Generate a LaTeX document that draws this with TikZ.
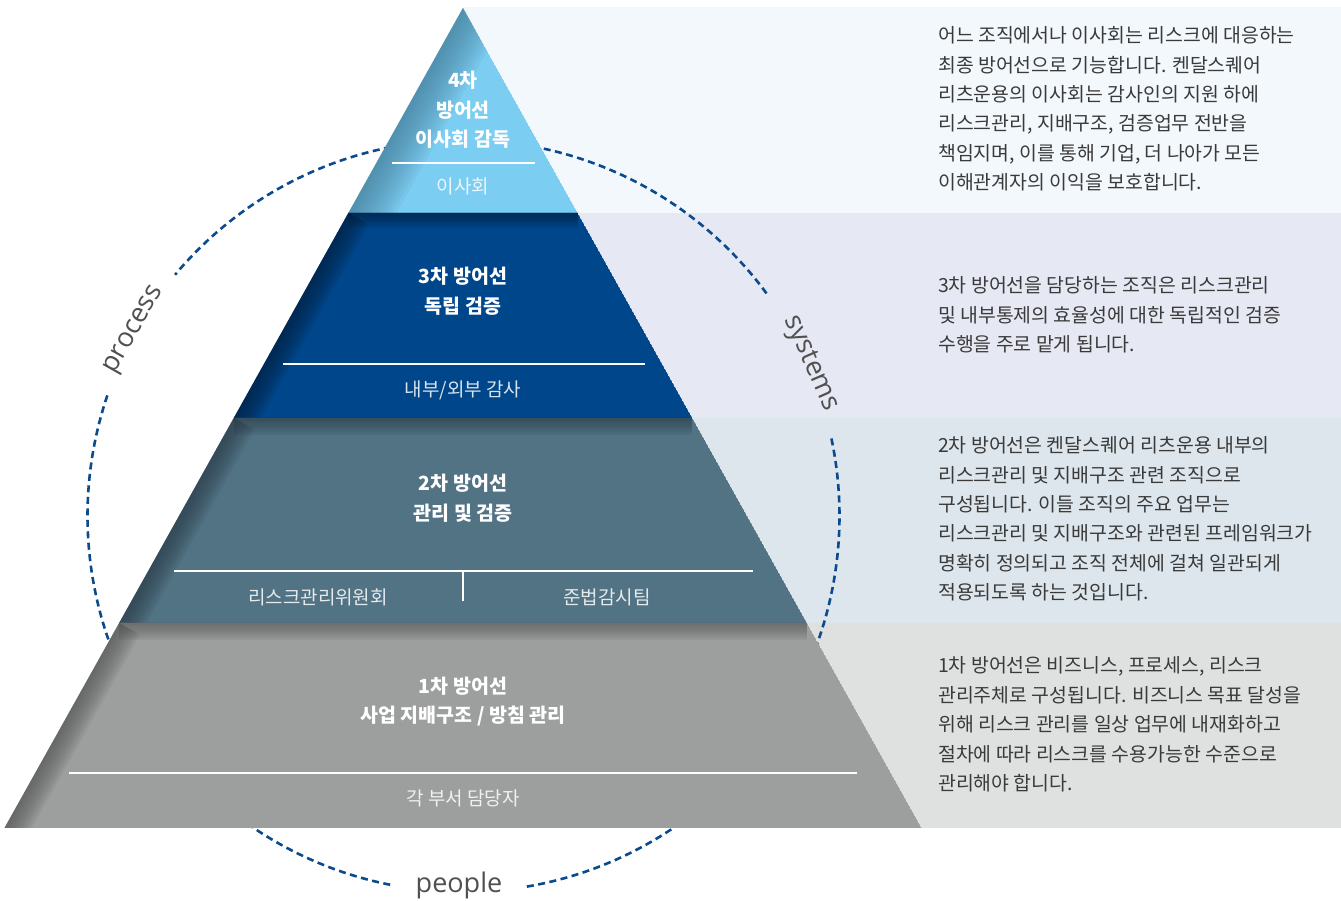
\documentclass[tikz,border=0pt]{standalone}
\usepackage{fontspec}
\setmainfont{Noto Sans CJK KR}
\newfontfamily\labelfont{Open Sans}
\usepackage{xcolor}
\usetikzlibrary{calc, positioning}

\definecolor{boardblue}{HTML}{7CCDF2}
\definecolor{boardshade}{HTML}{3F7590}
\definecolor{auditblue}{HTML}{00468A}
\definecolor{auditshade}{HTML}{00213F}
\definecolor{mgmtslate}{HTML}{517384}
\definecolor{mgmtshade}{HTML}{2C3D4A}
\definecolor{bizgrey}{HTML}{9D9E9E}
\definecolor{bizshade}{HTML}{545555}
\definecolor{panelA}{HTML}{F3F8FD}
\definecolor{panelB}{HTML}{E6E8F3}
\definecolor{panelC}{HTML}{DDE6EC}
\definecolor{panelD}{HTML}{DFE0E0}
\definecolor{ringblue}{HTML}{0B4A8C}
\definecolor{desctext}{HTML}{3A3A3A}
\definecolor{labelgrey}{HTML}{505050}

\begin{document}
\begin{tikzpicture}[x=1pt, y=1pt,
    title/.style={text=white, font=\fontsize{19.5}{29.5}\selectfont\bfseries, align=center, inner sep=0},
    sub/.style={text=white, text opacity=0.85, font=\fontsize{19}{22}\selectfont, inner sep=0},
    desc/.style={text=desctext, font=\fontsize{19.4}{29.4}\selectfont, align=left, anchor=west, inner sep=0},
    ring/.style={draw=ringblue, line width=2.6pt, dash pattern=on 7pt off 4.5pt},
    ringlabel/.style={text=labelgrey, font=\labelfont\fontsize{27}{30}\selectfont, inner sep=0, anchor=mid},
    divider/.style={draw=white, line width=1.4pt}]

    \useasboundingbox (0,0) rectangle (1341,901);
    \fill[white] (0,0) rectangle (1341,901);

    % Panels
    \fill[panelA] (463,688) rectangle (1341,894);
    \fill[panelB] (463,483) rectangle (1341,688);
    \fill[panelC] (463,278) rectangle (1341,483);
    \fill[panelD] (463,73) rectangle (1341,278);

    % Ring
    \coordinate (c) at (463.5,385);
    \draw[ring] ($(c)+(-80.3:376)$) arc[start angle=-80.3, end angle=11.9, radius=376pt];
    \draw[ring] ($(c)+(36.3:376)$) arc[start angle=36.3, end angle=140.1, radius=376pt];
    \draw[ring] ($(c)+(161.3:376)$) arc[start angle=161.3, end angle=259.3, radius=376pt];

    % Pyramid corners
    \coordinate (apex) at (463,893);
    \coordinate (l1) at (348.4,688);  \coordinate (r1) at (577.6,688);
    \coordinate (l2) at (233.8,483);  \coordinate (r2) at (692.2,483);
    \coordinate (l3) at (119.2,278);  \coordinate (r3) at (806.8,278);
    \coordinate (l4) at (4.5,73);     \coordinate (r4) at (921.5,73);

    % Bands
    \begin{scope}
      \clip (apex) -- (r1) -- (l1) -- cycle;
      \fill[boardblue] (apex) -- (r1) -- (l1) -- cycle;
      \foreach \i in {1,...,12}
        \draw[boardshade, line width=\i*7pt, opacity=0.08] (apex) -- (l1);
    \end{scope}
    \begin{scope}
      \clip (l1) -- (r1) -- (r2) -- (l2) -- cycle;
      \fill[auditblue] (l1) -- (r1) -- (r2) -- (l2) -- cycle;
      \foreach \i in {1,...,12}
        \draw[auditshade, line width=\i*4pt, opacity=0.09] (l1) -- (l2);
      \foreach \i in {1,...,10}
        \draw[auditshade, line width=\i*3pt, opacity=0.09] (l1) -- (r1);
    \end{scope}
    \begin{scope}
      \clip (l2) -- (r2) -- (r3) -- (l3) -- cycle;
      \fill[mgmtslate] (l2) -- (r2) -- (r3) -- (l3) -- cycle;
      \foreach \i in {1,...,12}
        \draw[mgmtshade, line width=\i*4pt, opacity=0.09] (l2) -- (l3);
      \foreach \i in {1,...,10}
        \draw[mgmtshade, line width=\i*3.5pt, opacity=0.09] (l2) -- (r2);
    \end{scope}
    \begin{scope}
      \clip (l3) -- (r3) -- (r4) -- (l4) -- cycle;
      \fill[bizgrey] (l3) -- (r3) -- (r4) -- (l4) -- cycle;
      \foreach \i in {1,...,12}
        \draw[bizshade, line width=\i*4pt, opacity=0.09] (l3) -- (l4);
      \foreach \i in {1,...,10}
        \draw[bizshade, line width=\i*3.5pt, opacity=0.09] (l3) -- (r3);
    \end{scope}

    % Nodes
    \node[title] (t4) at (463,791) {4차\\방어선\\이사회 감독};
    \node[sub] (s4) at (463,715) {이사회};
    \node[title] (t3) at (463,610) {3차 방어선\\독립 검증};
    \node[sub] (s3) at (463,511) {내부/외부 감사};
    \node[title] (t2) at (463,403) {2차 방어선\\관리 및 검증};
    \node[sub] (s2a) at (318,304) {리스크관리위원회};
    \node[sub] (s2b) at (607,304) {준법감시팀};
    \node[title] (t1) at (463,199.5) {1차 방어선\\사업 지배구조 / 방침 관리};
    \node[sub] (s1) at (463,103) {각 부서 담당자};

    % Dividers
    \draw[divider] (392,738) -- (535,738);
    \draw[divider] (283,537) -- (645,537);
    \draw[divider] (174,330) -- (753,330);
    \draw[divider] (463,330) -- (463,300);
    \draw[divider] (69,128) -- (857,128);

    % Descriptions
    \node[desc] (d4) at (938,792) {어느 조직에서나 이사회는 리스크에 대응하는\\
      최종 방어선으로 기능합니다. 켄달스퀘어\\
      리츠운용의 이사회는 감사인의 지원 하에\\
      리스크관리, 지배구조, 검증업무 전반을\\
      책임지며, 이를 통해 기업, 더 나아가 모든\\
      이해관계자의 이익을 보호합니다.};
    \node[desc] (d3) at (938,586) {3차 방어선을 담당하는 조직은 리스크관리\\
      및 내부통제의 효율성에 대한 독립적인 검증\\
      수행을 주로 맡게 됩니다.};
    \node[desc] (d2) at (938,382) {2차 방어선은 켄달스퀘어 리츠운용 내부의\\
      리스크관리 및 지배구조 관련 조직으로\\
      구성됩니다. 이들 조직의 주요 업무는\\
      리스크관리 및 지배구조와 관련된 프레임워크가\\
      명확히 정의되고 조직 전체에 걸쳐 일관되게\\
      적용되도록 하는 것입니다.};
    \node[desc] (d1) at (938,176.5) {1차 방어선은 비즈니스, 프로세스, 리스크\\
      관리주체로 구성됩니다. 비즈니스 목표 달성을\\
      위해 리스크 관리를 일상 업무에 내재화하고\\
      절차에 따라 리스크를 수용가능한 수준으로\\
      관리해야 합니다.};

    % Ring labels
    \node[ringlabel, rotate=60.5] (process) at ($(c)+(150.5:376)$) {process};
    \node[ringlabel, rotate=-66.3] (systems) at ($(c)+(23.7:376)$) {systems};
    \node[ringlabel, anchor=base] (people) at (459,8) {people};
\end{tikzpicture}
\end{document}
